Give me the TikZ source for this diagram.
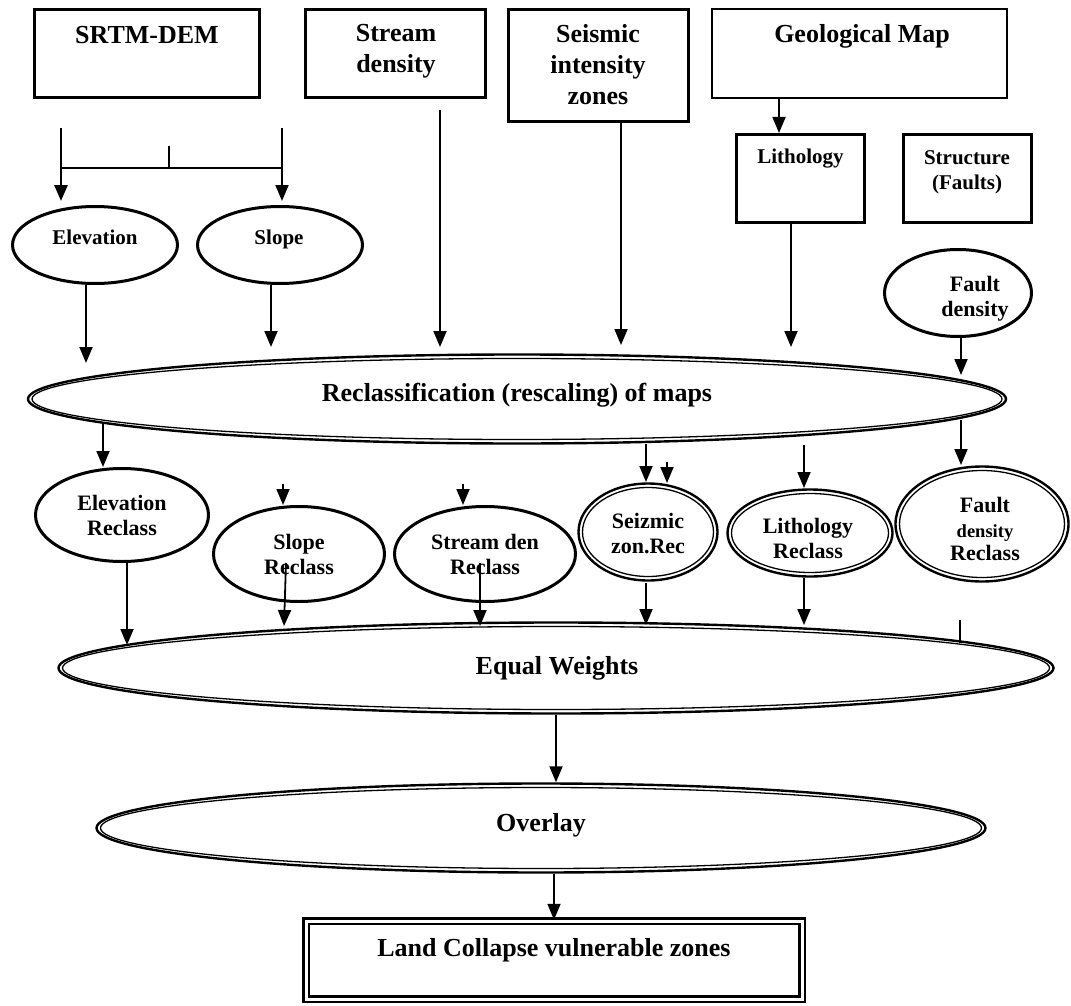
\documentclass[tikz,border=0pt]{standalone}
\usepackage{fontspec}
\setmainfont{Liberation Serif}
\usetikzlibrary{shapes.geometric,arrows.meta,calc}
\newcommand\fbig{\fontsize{26}{31}\selectfont\bfseries}
\newcommand\fsm{\fontsize{21}{25.5}\selectfont\bfseries}
\newcommand\fmd{\fontsize{22}{25.5}\selectfont\bfseries}
\newcommand\fxs{\fontsize{18.5}{22}\selectfont\bfseries}
\begin{document}
\begin{tikzpicture}[x=1pt,y=-1pt,
  arr/.style={line width=1.8pt,-{Triangle[width=13pt,length=16pt]}},
  ln/.style={line width=1.8pt},
  tbox/.style={draw,rectangle,line width=3pt,inner sep=0},
  thinbox/.style={draw,rectangle,line width=2pt,inner sep=0},
  sell/.style={draw,ellipse,line width=3pt,inner sep=0},
  dell/.style={draw,ellipse,line width=2.4pt,inner sep=0,
    path picture={\draw[line width=1.3pt]
      let \p1=(path picture bounding box.north east),
          \p2=(path picture bounding box.center) in
      (\p2) ellipse ({\x1-\x2-4pt} and {\y1-\y2-4pt});}},
  dbox/.style={draw,rectangle,double,line width=2.5pt,double distance=3pt,inner sep=0},
  big/.style={font=\fbig,align=center,inner sep=0,anchor=north},
  sm/.style={font=\fsm,align=center,inner sep=0,anchor=north},
  md/.style={font=\fmd,align=center,inner sep=0,anchor=north}]
\useasboundingbox (0,0) rectangle (1071,1006);

% ---------- boxes
\node[tbox,minimum width=225pt,minimum height=88pt] (srtm) at (147,53.5) {};
\node[tbox,minimum width=180pt,minimum height=88pt] (stream) at (395.5,53.5) {};
\node[tbox,minimum width=180pt,minimum height=112pt] (seismic) at (598.5,65.5) {};
\node[thinbox,minimum width=295pt,minimum height=89pt] (geo) at (859.5,53.5) {};
\node[tbox,minimum width=128pt,minimum height=88pt] (litho) at (800.5,178.5) {};
\node[tbox,minimum width=128pt,minimum height=88pt] (struct) at (967.5,178.5) {};

% ---------- ellipses
\node[sell,minimum width=165pt,minimum height=77pt] (elev) at (95,245) {};
\node[sell,minimum width=165pt,minimum height=77pt] (slope) at (280,245) {};
\node[sell,minimum width=147pt,minimum height=87pt] (fdens) at (958,293) {};
\node[dell,minimum width=978pt,minimum height=89pt] (reclass) at (517,399) {};
\node[sell,minimum width=173pt,minimum height=93pt] (elevr) at (122,515) {};
\node[sell,minimum width=171pt,minimum height=95pt] (sloper) at (299,554) {};
\node[sell,minimum width=181pt,minimum height=95pt] (streamr) at (485,554) {};
\node[dell,minimum width=139pt,minimum height=97pt] (seizr) at (648,532) {};
\node[dell,minimum width=165pt,minimum height=87pt] (lithr) at (810,533) {};
\node[dell,minimum width=173pt,minimum height=115pt] (fdr) at (982,524) {};
\node[dell,minimum width=995pt,minimum height=91pt] (equal) at (556,668) {};
\node[dell,minimum width=889pt,minimum height=89pt] (overlay) at (541,828) {};
\node[dbox,minimum width=496pt,minimum height=78pt] (land) at (554,960) {};

% ---------- texts
\node[big] (srtm-t) at (147,26) {SRTM-DEM};
\node[big] (stream-t) at (396,24) {Stream\\density};
\node[big] (seismic-t) at (598,24) {Seismic\\intensity\\zones};
\node[big] (geo-t) at (862,24) {Geological Map};
\node[sm] (litho-t) at (800.5,149) {Lithology};
\node[sm] (struct-t) at (967,150) {Structure\\(Faults)};
\node[sm] (elev-t) at (95,230) {Elevation};
\node[sm] (slope-t) at (279,230) {Slope};
\node[md] (fdens-t) at (975,276) {Fault\\density};
\node[big] (reclass-t) at (517,383) {Reclassification (rescaling) of maps};
\node[md] (elevr-t) at (122,495) {Elevation\\Reclass};
\node[md] (sloper-t) at (299,534) {Slope\\Reclass};
\node[md] (streamr-t) at (485,534) {Stream den\\Reclass};
\node[md] (seizr-t) at (648,513) {Seizmic\\zon.Rec};
\node[md] (lithr-t) at (808,518) {Lithology\\Reclass};
\node[md] (fdr-t) at (985,497) {Fault\\{\fxs density}\\[-3pt]Reclass};
\node[big] (equal-t) at (557,656) {Equal Weights};
\node[big] (overlay-t) at (541,813) {Overlay};
\node[big] (land-t) at (554,938) {Land Collapse vulnerable zones};

% ---------- free ends of connectors
\coordinate (s1) at (61,128);
\coordinate (s2) at (282,128);
\coordinate (s3) at (169,146);
\coordinate (s4) at (169,168);
\coordinate (r1) at (86,363);
\coordinate (r2) at (271,347);
\coordinate (r3) at (440,347);
\coordinate (r4) at (621,345);
\coordinate (r5) at (791,347);
\coordinate (r6) at (961,375);
\coordinate (a1s) at (103,424);
\coordinate (a1) at (103,467);
\coordinate (a2s) at (283,484);
\coordinate (a2) at (283,505);
\coordinate (a3s) at (463,484);
\coordinate (a3) at (463,505);
\coordinate (a4s) at (646,444);
\coordinate (a4) at (646,482);
\coordinate (a5s) at (667,462);
\coordinate (a5) at (667,483);
\coordinate (a6s) at (804,445);
\coordinate (a6) at (804,488);
\coordinate (a7s) at (961,420);
\coordinate (a7) at (961,465);
\coordinate (q1s) at (127,563);
\coordinate (q1) at (127,645);
\coordinate (q2s) at (286,563);
\coordinate (q2) at (284,626);
\coordinate (q3s) at (480,563);
\coordinate (q3) at (480,626);
\coordinate (q4s) at (646,583);
\coordinate (q4) at (646,625);
\coordinate (q5s) at (804,578);
\coordinate (q5) at (804,625);
\coordinate (q6s) at (960,620);
\coordinate (q6) at (960,643);

% ---------- connectors
\draw[arr] ([xshift=-80.5pt]geo.south) -- ([xshift=-21.5pt]litho.north);
\draw[arr,line width=2.8pt,shorten >=4pt] (s1) -- (s1 |- elev.north);
\draw[arr,shorten >=4pt] (s2) -- (s2 |- slope.north);
\draw[ln] (s1 |- s4) -- (s2 |- s4);
\draw[ln] (s3) -- (s4);

\draw[arr] ([xshift=-9pt]elev.south) -- (r1);
\draw[arr] ([xshift=-9pt]slope.south) -- (r2);
\draw[arr] ([xshift=44.5pt,yshift=-11pt]stream.south) -- (r3);
\draw[arr] ([xshift=22.5pt]seismic.south) -- (r4);
\draw[arr] ([xshift=-9.5pt]litho.south) -- (r5);
\draw[arr] ([xshift=3pt]fdens.south) -- (r6);

\draw[arr] (a1s) -- (a1);
\draw[arr] (a2s) -- (a2);
\draw[arr] (a3s) -- (a3);
\draw[arr] (a4s) -- (a4);
\draw[arr] (a5s) -- (a5);
\draw[arr] (a6s) -- (a6);
\draw[arr] (a7s) -- (a7);

\draw[arr] (q1s) -- (q1);
\draw[arr] (q2s) -- (q2);
\draw[arr] (q3s) -- (q3);
\draw[arr] (q4s) -- (q4);
\draw[arr] (q5s) -- (q5);
\draw[ln] (q6s) -- (q6);

\draw[arr] (equal.south) -- (equal.south |- overlay.north);
\draw[arr] (overlay.south -| land.north) -- (land.north);
\end{tikzpicture}
\end{document}
